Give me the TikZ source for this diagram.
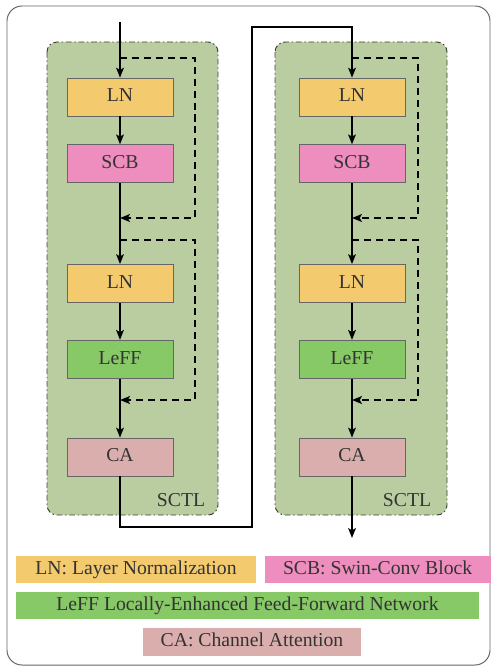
\documentclass[tikz,border=0pt]{standalone}
\usepackage{fontspec}
\setmainfont{Liberation Serif}
\usetikzlibrary{arrows.meta,positioning}
\definecolor{sgreen}{HTML}{B9CDA0}
\definecolor{slnyellow}{HTML}{F4CA6E}
\definecolor{sscbpink}{HTML}{EE8EBE}
\definecolor{sleffgreen}{HTML}{87C867}
\definecolor{scarose}{HTML}{DBAEAE}
\definecolor{stext}{HTML}{333333}

\begin{document}
\begin{tikzpicture}[x=0.025cm, y=-0.025cm,
    font=\fontsize{14}{16}\selectfont, text=stext,
    blk/.style={rectangle, draw=gray!80!black, line width=0.5pt, minimum width=2.65cm, minimum height=0.95cm, inner sep=0pt, text height=1.8ex, text depth=0.3ex},
    legbox/.style={rectangle, minimum height=0.675cm, inner sep=0pt, text height=1.8ex, text depth=0.3ex},
    panel/.style={draw=black!75, fill=sgreen, line width=0.7pt, rounded corners=0.25cm, dash pattern=on 4pt off 2pt on 1pt off 2pt},
    flow/.style={line width=1.1pt, -{Stealth[length=7pt,width=5.5pt,inset=1.5pt]}},
    skip/.style={line width=1.3pt, dash pattern=on 5pt off 3.5pt, -{Stealth[length=7pt,width=5.5pt,inset=1.5pt]}}]
      % Frame
      \useasboundingbox (0,0) rectangle (491,670);
      \draw[black!60, line width=0.7pt, rounded corners=0.375cm] (7,6) rectangle (490,665);

      % Panels
      \draw[panel] (47,42) rectangle (218,515);
      \draw[panel] (275,42) rectangle (447,515);
      \node (sctla) at (181,500) {SCTL};
      \node (sctlb) at (407,500) {SCTL};

      % Left layer
      \node[blk, fill=slnyellow] (lna) at (120,97) {LN};
      \node[blk, fill=sscbpink, below=0.7cm of lna] (scba) {SCB};
      \node[blk, fill=slnyellow, below=2.025cm of scba] (lnb) {LN};
      \node[blk, fill=sleffgreen, below=0.925cm of lnb] (leffa) {LeFF};
      \node[blk, fill=scarose, below=1.475cm of leffa] (caa) {CA};

      % Right layer
      \node[blk, fill=slnyellow] (lnc) at (352,97) {LN};
      \node[blk, fill=sscbpink, below=0.7cm of lnc] (scbb) {SCB};
      \node[blk, fill=slnyellow, below=2.025cm of scbb] (lnd) {LN};
      \node[blk, fill=sleffgreen, below=0.925cm of lnd] (leffb) {LeFF};
      \node[blk, fill=scarose, below=1.475cm of leffb] (cab) {CA};

      % Points
      \coordinate (in) at (120,22);
      \coordinate (out) at (352,538);
      \coordinate (sa1) at (120,58);
      \coordinate (sa2) at (120,218);
      \coordinate (sb1) at (120,240);
      \coordinate (sb2) at (120,400);
      \coordinate (sc1) at (352,58);
      \coordinate (sc2) at (352,218);
      \coordinate (sd1) at (352,240);
      \coordinate (sd2) at (352,400);

      % Arrows
      \draw[flow] (in) -- (lna);
      \draw[flow] (lna) -- (scba);
      \draw[flow] (scba) -- (lnb);
      \draw[flow] (lnb) -- (leffa);
      \draw[flow] (leffa) -- (caa);
      \draw[flow] (caa.south) -- (120,527) -- (252,527) -- (252,27) -- (352,27) -- (lnc);
      \draw[flow] (lnc) -- (scbb);
      \draw[flow] (scbb) -- (lnd);
      \draw[flow] (lnd) -- (leffb);
      \draw[flow] (leffb) -- (cab);
      \draw[flow] (cab) -- (out);

      % Skip connections
      \draw[skip] (sa1) -- ++(75,0) |- (sa2);
      \draw[skip] (sb1) -- ++(75,0) |- (sb2);
      \draw[skip] (sc1) -- ++(66,0) |- (sc2);
      \draw[skip] (sd1) -- ++(66,0) |- (sd2);

      % Legend
      \node[legbox, fill=slnyellow, minimum width=6cm] (legln) at (136,569.5) {LN: Layer Normalization};
      \node[legbox, fill=sscbpink, minimum width=5.65cm, right=0.2cm of legln] (legscb) {SCB: Swin-Conv Block};
      \node[legbox, fill=sleffgreen, minimum width=11.575cm] (legleff) at (247.5,605.5) {LeFF Locally-Enhanced Feed-Forward Network};
      \node[legbox, fill=scarose, minimum width=5.45cm, minimum height=0.7cm] (legca) at (252,642) {CA: Channel Attention};
    \end{tikzpicture}
\end{document}
